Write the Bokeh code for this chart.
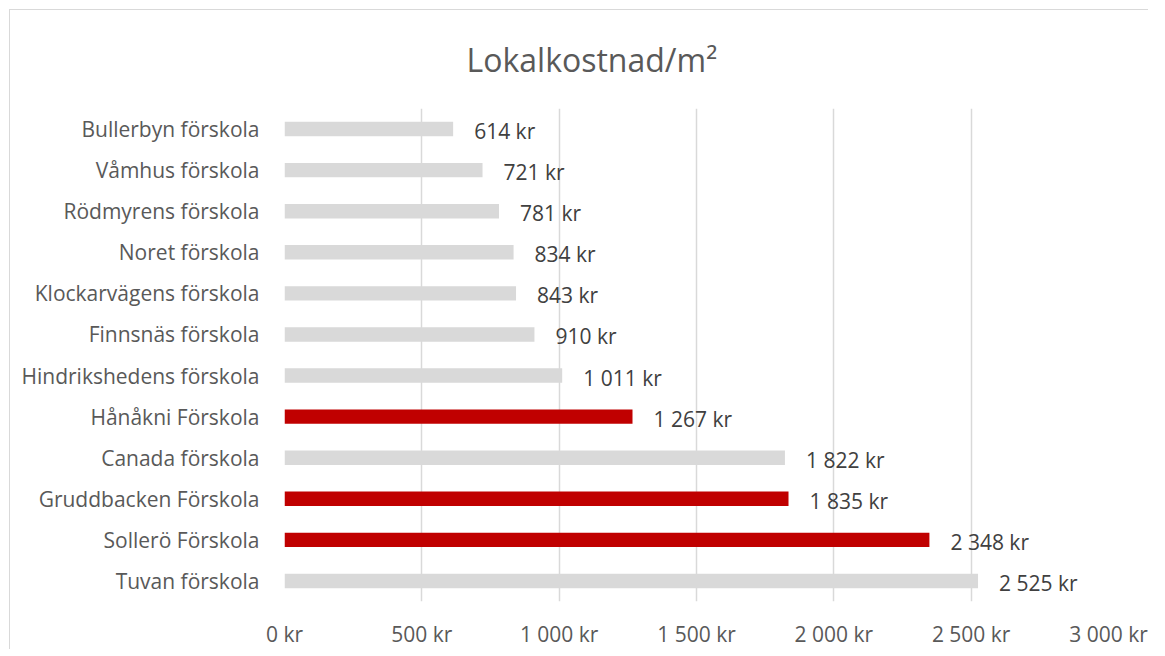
from bokeh.plotting import figure
from bokeh.models import FactorRange, Range1d, FixedTicker, CustomJSTickFormatter, ColumnDataSource
from bokeh.core.properties import value
from bokeh.embed import file_html
from bokeh.resources import INLINE

schools = ["Bullerbyn förskola", "Våmhus förskola", "Rödmyrens förskola", "Noret förskola",
           "Klockarvägens förskola", "Finnsnäs förskola", "Hindrikshedens förskola",
           "Hånåkni Förskola", "Canada förskola", "Gruddbacken Förskola",
           "Sollerö Förskola", "Tuvan förskola"]
costs = [614, 721, 781, 834, 843, 910, 1011, 1267, 1822, 1835, 2348, 2525]
highlight = [False, False, False, False, False, False, False, True, False, True, True, False]
x_ticks = [0, 500, 1000, 1500, 2000, 2500, 3000]
title_text = "Lokalkostnad/m²"

GREY = "#d9d9d9"
RED = "#c00000"
FONT = "Open Sans"

def fmt(v):
    return f"{v:,}".replace(",", " ") + " kr"

src = ColumnDataSource(dict(
    school=schools,
    cost=costs,
    color=[RED if h else GREY for h in highlight],
    label=[fmt(v) for v in costs],
))

p = figure(width=1139, height=640, output_backend="svg", toolbar_location=None,
           y_range=FactorRange(factors=list(reversed(schools)), range_padding=0),
           x_range=Range1d(0, 3000),
           min_border_left=274, min_border_right=41, min_border_top=98, min_border_bottom=40)
p.styles = {"border-top": "1px solid #d9d9d9", "border-left": "1px solid #d9d9d9",
            "margin-top": "9px", "margin-left": "9px"}

p.hbar(y="school", right="cost", left=0, height=0.35, color="color", line_color=None, source=src)
p.text(x="cost", y="school", text="label", source=src, x_offset=21, y_offset=2,
       text_font=value(FONT), text_font_size="21px", text_color="#404040",
       text_baseline="middle", text_align="left")

p.title.text = title_text
p.title.align = "left"
p.title.vertical_align = "top"
p.title.text_font = FONT
p.title.text_font_size = "32px"
p.title.text_font_style = "normal"
p.title.text_color = "#595959"
p.title.offset = 182
p.title.standoff = 52

p.xaxis.ticker = FixedTicker(ticks=x_ticks)
p.xaxis.formatter = CustomJSTickFormatter(code="""
    return tick.toString().replace(/\\B(?=(\\d{3})+(?!\\d))/g, ' ') + ' kr';
""")
for ax in (p.xaxis, p.yaxis):
    ax.axis_line_color = None
    ax.major_tick_line_color = None
    ax.minor_tick_line_color = None
    ax.major_label_text_font = FONT
    ax.major_label_text_font_size = "21px"
    ax.major_label_text_color = "#595959"
p.xaxis.major_label_standoff = 12
p.yaxis.major_label_standoff = 19

p.xgrid.ticker = FixedTicker(ticks=x_ticks)
p.xgrid.grid_line_color = GREY
p.xgrid.grid_line_width = 1.5
p.ygrid.grid_line_color = None
p.outline_line_color = None

open("out.html", "w").write(file_html(p, INLINE))
